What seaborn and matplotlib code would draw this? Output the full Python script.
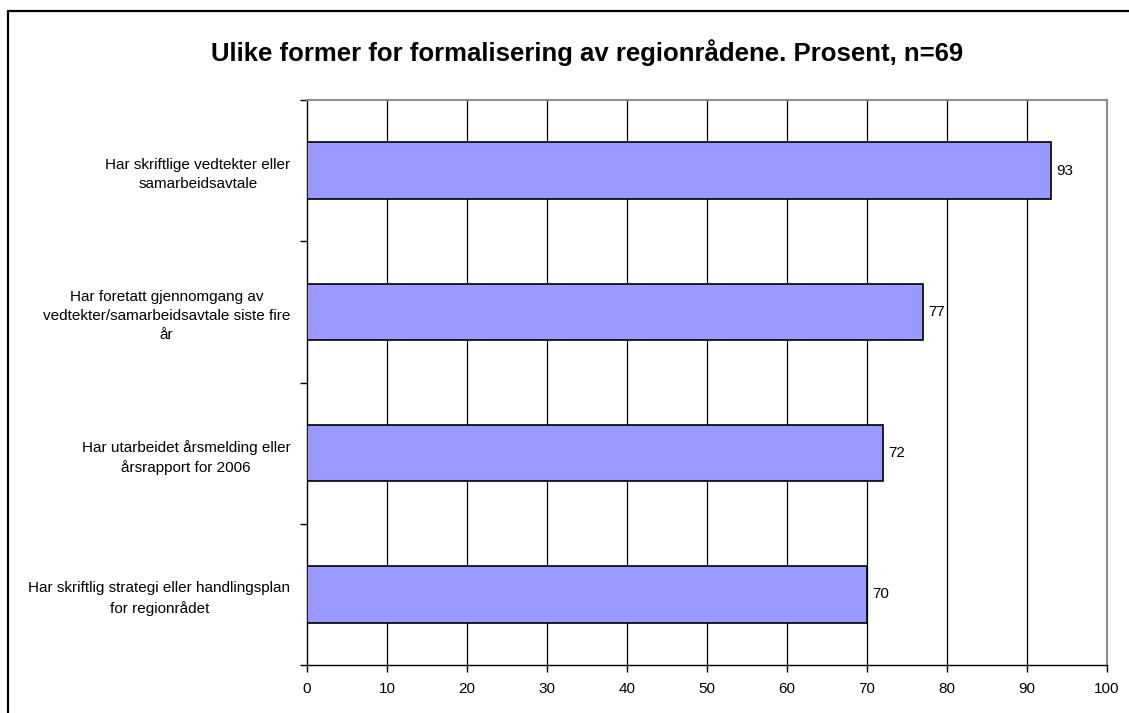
import matplotlib
matplotlib.use("Agg")
import matplotlib.pyplot as plt
import seaborn as sns
import pandas as pd
from matplotlib.lines import Line2D

categories = [
    "Har skriftlige vedtekter eller\nsamarbeidsavtale",
    "Har foretatt gjennomgang av\nvedtekter/samarbeidsavtale siste fire\når",
    "Har utarbeidet årsmelding eller\nårsrapport for 2006",
    "Har skriftlig strategi eller handlingsplan\nfor regionrådet",
]
values = [93, 77, 72, 70]
x_ticks = [0, 10, 20, 30, 40, 50, 60, 70, 80, 90, 100]
title = "Ulike former for formalisering av regionrådene. Prosent, n=69"

sns.set_style("white")
plt.rcParams["font.family"] = ["Liberation Sans", "DejaVu Sans"]
plt.rcParams["text.color"] = "black"
plt.rcParams["xtick.color"] = "black"
plt.rcParams["ytick.color"] = "black"

W, H = 1129, 713
fig = plt.figure(figsize=(W / 100, H / 100), dpi=100)
ax = fig.add_axes([307 / W, (H - 665) / H, (1107 - 307) / W, (665 - 100) / H])

df = pd.DataFrame({"cat": categories, "val": values})
sns.barplot(data=df, x="val", y="cat", orient="h", color="#9999FF",
            edgecolor="black", linewidth=1.2, width=0.4, saturation=1, ax=ax, zorder=3)

ax.set_xlim(0, 100)
ax.set_ylim(len(categories) - 0.5, -0.5)
ax.set_xticks(x_ticks)
ax.set_xticklabels([str(t) for t in x_ticks], fontsize=11)
ax.set_xlabel("")
ax.set_ylabel("")

# vertical gridlines
for t in x_ticks[1:-1]:
    ax.axvline(t, color="black", lw=0.9, zorder=1)

# y ticks: marks at category boundaries, labels at centres
ax.set_yticks(range(len(categories)))
ax.set_yticklabels(categories, fontsize=11, multialignment="center", linespacing=1.45)
ax.set_yticks([i - 0.5 for i in range(len(categories) + 1)], minor=True)
ax.tick_params(axis="both", which="both", left=True, bottom=True)
ax.tick_params(axis="y", which="major", length=0, pad=12)
ax.tick_params(axis="y", which="minor", length=5, width=1, color="black", direction="out")
ax.tick_params(axis="x", which="major", length=5, width=1, color="black", direction="out", pad=7)

for s in ["left", "bottom"]:
    ax.spines[s].set_color("black")
    ax.spines[s].set_linewidth(1)
for s in ["top", "right"]:
    ax.spines[s].set_color("#8c8c8c")
    ax.spines[s].set_linewidth(1.5)

for i, v in enumerate(values):
    ax.text(v + 0.7, i, str(v), va="center", ha="left", fontsize=11)

fig.text(587 / W, 1 - 53 / H, title, ha="center", va="center", fontsize=18.5, fontweight="bold")

# outer chart border (only left and top visible)
fig.add_artist(Line2D([8 / W, 8 / W], [0, 1 - 11 / H], transform=fig.transFigure, color="black", lw=1.6))
fig.add_artist(Line2D([8 / W, 1], [1 - 11 / H, 1 - 11 / H], transform=fig.transFigure, color="black", lw=1.6))

fig.savefig("out.png", dpi=100)
